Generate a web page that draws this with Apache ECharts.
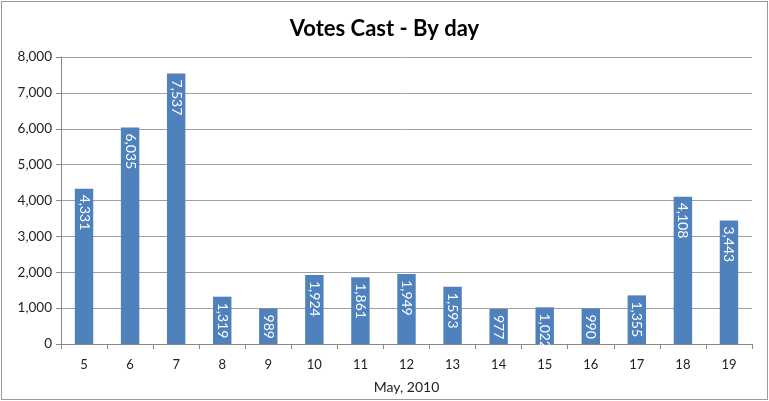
<!DOCTYPE html>
<html><head><meta charset="utf-8">
<script src="https://cdn.jsdelivr.net/npm/echarts@6/dist/echarts.min.js"></script>
<style>html,body{margin:0;padding:0;background:#fff}#c{width:767px;height:399px;box-sizing:border-box;border:1px solid #9a9a9a;margin:1px 0 0 1px}</style>
</head><body><div id="c"></div>
<script>
const categories = ['5','6','7','8','9','10','11','12','13','14','15','16','17','18','19'];
const votes = [4331,6035,7537,1319,989,1924,1861,1949,1593,977,1022,990,1355,4108,3443];
const yTicks = [0,1000,2000,3000,4000,5000,6000,7000,8000];
const chart = echarts.init(document.getElementById('c'));
const font = 'Lato, "Open Sans", sans-serif';
chart.setOption({
  animation:false,
  title:{text:'Votes Cast - By day',left:'center',top:11,textStyle:{fontFamily:font,fontSize:22,fontWeight:'bold',color:'#000'}},
  grid:{left:59,right:15,top:55,bottom:54,containLabel:false},
  xAxis:{type:'category',data:categories,name:'May, 2010',nameLocation:'middle',nameGap:36,
    nameTextStyle:{fontFamily:font,fontSize:14,color:'#222'},
    axisLine:{lineStyle:{color:'#888'}},
    axisTick:{show:true,alignWithLabel:false,length:5,lineStyle:{color:'#888'}},
    axisLabel:{fontFamily:font,fontSize:13,color:'#222',margin:14}},
  yAxis:{type:'value',min:0,max:8000,interval:1000,
    axisLine:{show:true,lineStyle:{color:'#888'}},
    axisTick:{show:true,length:5,lineStyle:{color:'#888'}},
    splitLine:{lineStyle:{color:'#a0a0a0'}},
    axisLabel:{fontFamily:font,fontSize:13.5,color:'#222',margin:9,
      formatter:v=>v.toLocaleString('en-US')}},
  series:[{type:'bar',data:votes,barWidth:'40%',itemStyle:{color:'#4f81bd'},
    label:{show:true,position:'insideTop',rotate:-90,align:'left',verticalAlign:'middle',distance:6,
      fontFamily:font,fontSize:14,color:'#fff',formatter:p=>p.value.toLocaleString('en-US')}}]
});
</script></body></html>
